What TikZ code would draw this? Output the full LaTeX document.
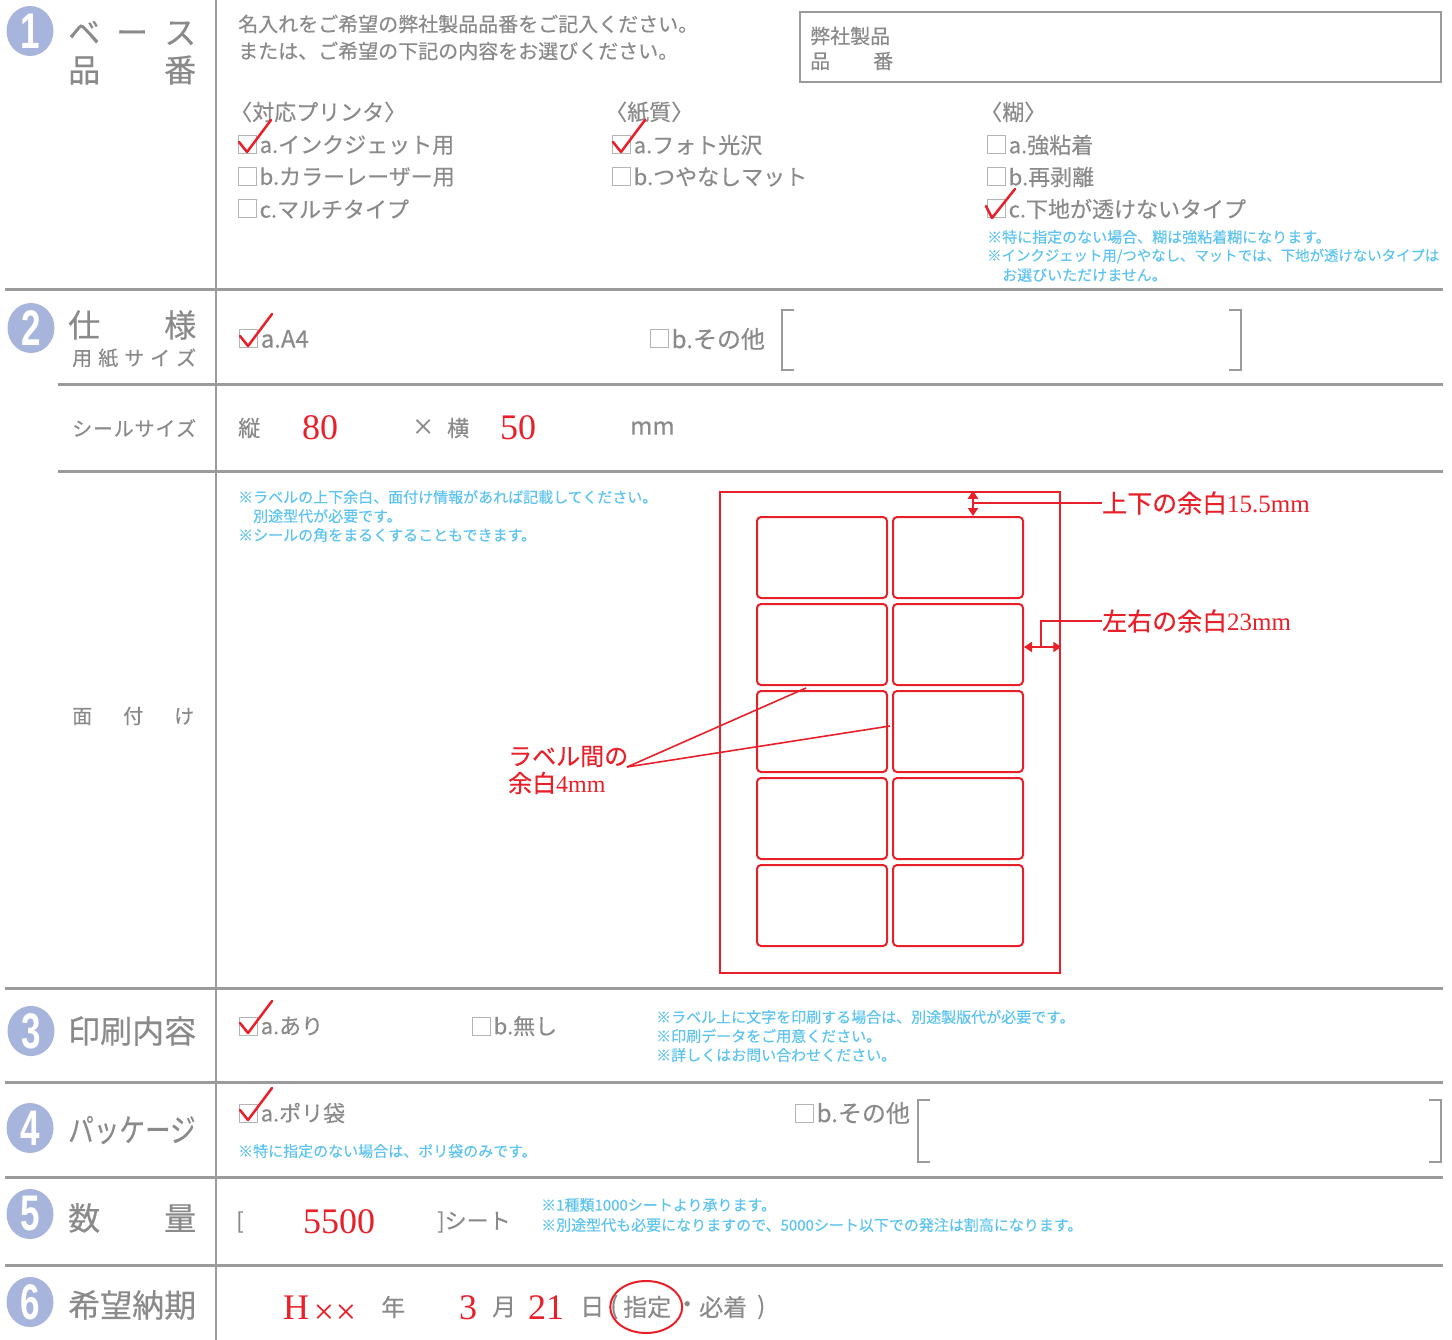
\documentclass[tikz,border=0pt]{standalone}
\usepackage{fontspec}
\setmainfont{Noto Sans CJK JP}[FakeBold=0.4]
\newfontfamily\serifnum{Liberation Serif}
\newfontfamily\circnum{Liberation Sans}[FakeStretch=0.7]
\usetikzlibrary{arrows.meta,shapes.geometric,positioning}

\definecolor{txtgray}{HTML}{8A8A8A}
\definecolor{linegray}{HTML}{9B9B9B}
\definecolor{boxgray}{HTML}{B4B4B4}
\definecolor{noteblue}{HTML}{5EC4EF}
\definecolor{markred}{HTML}{E8202A}
\definecolor{circblue}{HTML}{A7B5DC}

\newcommand{\spreadto}[2]{\hbox to #1{#2}}

\tikzset{
  num/.style={ellipse, fill=circblue, minimum width=47pt, minimum height=50pt, inner sep=0pt, text=white, font=\circnum\bfseries\fontsize{50}{50}\selectfont},
  head/.style={anchor=west, inner sep=0pt, text=txtgray, font=\fontsize{32}{32}\selectfont},
  sub/.style={anchor=west, inner sep=0pt, text=txtgray, font=\fontsize{20}{20}\selectfont},
  item/.style={anchor=west, inner sep=0pt, text=txtgray, font=\fontsize{22}{22}\selectfont},
  bigitem/.style={item, font=\fontsize{24}{24}\selectfont},
  note/.style={anchor=west, inner sep=0pt, text=noteblue, font=\fontsize{15}{15}\selectfont},
  rednum/.style={anchor=west, inner sep=0pt, text=markred, font=\serifnum\fontsize{36}{36}\selectfont},
  redtxt/.style={anchor=west, inner sep=0pt, text=markred, font=\fontsize{25}{27}\selectfont},
  cbox/.style={draw=boxgray, line width=1pt, minimum size=18pt, inner sep=0pt},
  checkmark/.style={markred, line width=2.5pt, line cap=round, line join=round},
  rowline/.style={linegray, line width=3pt},
  bracketline/.style={linegray, line width=2pt},
  redline/.style={markred, line width=2.5pt},
  redthin/.style={markred, line width=1.6pt},
  labelbox/.style={draw=markred, line width=2pt, rounded corners=4pt, minimum width=130pt, minimum height=81pt, inner sep=0pt},
  dimarrow/.style={markred, line width=2.5pt, {Triangle[length=8pt,width=10pt]}-{Triangle[length=8pt,width=10pt]}},
}

\begin{document}
\begin{tikzpicture}[x=1pt,y=-1pt]
    \useasboundingbox (0,0) rectangle (1452,1340);
    % table rules
    \draw[bracketline] (216,0) -- (216,1340);
    \draw[rowline] (5,290) -- (1443,290);
    \draw[rowline] (58,385) -- (1443,385);
    \draw[rowline] (58,471) -- (1443,471);
    \draw[rowline] (5,988) -- (1443,988);
    \draw[rowline] (5,1082) -- (1443,1082);
    \draw[rowline] (5,1177) -- (1443,1177);
    \draw[rowline] (5,1265) -- (1443,1265);

    % 1 base
    \node[num] (n1) at (30,31) {1};
    \node[head] (h1a) at (68,33) {\spreadto{128pt}{ベ\hfill ー\hfill ス}};
    \node[head] (h1b) at (68,70) {\spreadto{128pt}{品\hfill 番}};
    \node[sub] (intro1) at (238,24) {名入れをご希望の弊社製品品番をご記入ください。};
    \node[sub] (intro2) at (238,51) {または、ご希望の下記の内容をお選びください。};
    \draw[bracketline] (800,12) rectangle (1441,82);
    \node[sub] (pn1) at (810,36) {弊社製品};
    \node[sub] (pn2) at (810,61) {\spreadto{83pt}{品\hfill 番}};
    \node[item] (cat1) at (230,112) {〈対応プリンタ〉};
    \node[item] (cat2) at (605,112) {〈紙質〉};
    \node[item] (cat3) at (980,112) {〈糊〉};
    \node[cbox] (c1a) at (247,145) {};
    \node[cbox] (c1b) at (247,177) {};
    \node[cbox] (c1c) at (247,209) {};
    \node[item, right=3pt of c1a] (t1a) {a.インクジェット用};
    \node[item, right=3pt of c1b] (t1b) {b.カラーレーザー用};
    \node[item, right=3pt of c1c] (t1c) {c.マルチタイプ};
    \node[cbox] (c2a) at (621,145) {};
    \node[cbox] (c2b) at (621,177) {};
    \node[item, right=3pt of c2a] (t2a) {a.フォト光沢};
    \node[item, right=3pt of c2b] (t2b) {b.つやなしマット};
    \node[cbox] (c3a) at (996,145) {};
    \node[cbox] (c3b) at (996,177) {};
    \node[cbox] (c3c) at (996,209) {};
    \node[item, right=3pt of c3a] (t3a) {a.強粘着};
    \node[item, right=3pt of c3b] (t3b) {b.再剥離};
    \node[item, right=3pt of c3c] (t3c) {c.下地が透けないタイプ};
    \draw[checkmark] ([shift={(-8,-3)}]c1a.center) -- ++(8,10) -- ++(24,-32);
    \draw[checkmark] ([shift={(-8,-3)}]c2a.center) -- ++(8,10) -- ++(24,-32);
    \draw[checkmark] ([shift={(-10,-3)}]c3c.center) -- ++(6,12) -- ++(23,-29);
    \node[note] (g1) at (987,237) {※特に指定のない場合、糊は強粘着糊になります。};
    \node[note, font=\fontsize{14.4}{14.4}\selectfont] (g2) at (987,256) {※インクジェット用/つやなし、マットでは、下地が透けないタイプは};
    \node[note] (g3) at (1002,275) {お選びいただけません。};

    % 2 spec
    \node[num] (n2) at (31,328) {2};
    \node[head] (h2a) at (68,325) {\spreadto{128pt}{仕\hfill 様}};
    \node[sub] (h2b) at (72,358) {\spreadto{124pt}{用\hfill 紙\hfill サ\hfill イ\hfill ズ}};
    \node[sub] (h2c) at (72,428) {\spreadto{124pt}{シ\hfill ー\hfill ル\hfill サ\hfill イ\hfill ズ}};
    \node[sub] (h2d) at (72,716) {\spreadto{122pt}{面\hfill 付\hfill け}};
    \node[cbox] (s2a) at (248,339) {};
    \node[cbox] (s2b) at (659,339) {};
    \node[bigitem, right=3pt of s2a] (a4) {a.A4};
    \node[bigitem, right=3pt of s2b] (other2) {b.その他};
    \draw[checkmark] ([shift={(-8,-3)}]s2a.center) -- ++(8,10) -- ++(24,-32);
    \draw[bracketline] (794,310) -- (782,310) -- (782,370) -- (794,370);
    \draw[bracketline] (1229,310) -- (1241,310) -- (1241,370) -- (1229,370);
    \node[item] (tate) at (238,428) {縦};
    \node[rednum] (v80) at (302,428) {80};
    \node[item] (times) at (412,427) {×};
    \node[item] (yoko) at (447,428) {横};
    \node[rednum] (v50) at (500,428) {50};
    \node[bigitem] (unit) at (630,428) {mm};
    \node[note] (m1) at (238,497) {※ラベルの上下余白、面付け情報があれば記載してください。};
    \node[note] (m2) at (253,516) {別途型代が必要です。};
    \node[note] (m3) at (238,535) {※シールの角をまるくすることもできます。};

    % sheet layout
    \node[draw=markred, line width=2.5pt, minimum width=340pt, minimum height=481pt, inner sep=0pt] (sheet) at (890,732.5) {};
    \node[labelbox] (l11) at (822,557.5) {};
    \node[labelbox] (l12) at (958,557.5) {};
    \node[labelbox] (l21) at (822,644.5) {};
    \node[labelbox] (l22) at (958,644.5) {};
    \node[labelbox] (l31) at (822,731.5) {};
    \node[labelbox] (l32) at (958,731.5) {};
    \node[labelbox] (l41) at (822,818.5) {};
    \node[labelbox] (l42) at (958,818.5) {};
    \node[labelbox] (l51) at (822,905.5) {};
    \node[labelbox] (l52) at (958,905.5) {};
    \node[redtxt] (tbtext) at (1102,503) {上下の余白{\serifnum 15.5mm}};
    \node[redtxt] (lrtext) at (1102,621) {左右の余白{\serifnum 23mm}};
    \node[redtxt, align=left, font=\fontsize{24}{27}\selectfont] (gaptext) at (508,770) {ラベル間の\\余白{\serifnum 4mm}};
    \coordinate (tbmark) at (973,503);
    \coordinate (lrmark) at (1041,647);
    \coordinate (gapfrom) at (627,767);
    \coordinate (gaprow) at (806,688);
    \coordinate (gapcol) at (890,726);
    \draw[dimarrow] (sheet.north -| tbmark) -- (l12.north -| tbmark);
    \draw[redline] (tbmark) -- (tbtext.west);
    \draw[dimarrow] (l22.east |- lrmark) -- (sheet.east |- lrmark);
    \draw[redline] (lrmark) |- (lrtext.west);
    \draw[redthin] (gapfrom) -- (gaprow);
    \draw[redthin] (gapfrom) -- (gapcol);

    % 3 print
    \node[num] (n3) at (31,1031) {3};
    \node[head] (h3) at (68,1031) {\spreadto{128pt}{印\hfill 刷\hfill 内\hfill 容}};
    \node[cbox] (p3a) at (248,1026) {};
    \node[cbox] (p3b) at (481,1026) {};
    \node[item, right=3pt of p3a] (ari) {a.あり};
    \node[item, right=3pt of p3b] (nashi) {b.無し};
    \draw[checkmark] ([shift={(-8,-3)}]p3a.center) -- ++(8,10) -- ++(24,-32);
    \node[note] (q1) at (656,1017) {※ラベル上に文字を印刷する場合は、別途製版代が必要です。};
    \node[note] (q2) at (656,1036) {※印刷データをご用意ください。};
    \node[note] (q3) at (656,1055) {※詳しくはお問い合わせください。};

    % 4 package
    \node[num] (n4) at (30,1128) {4};
    \node[head] (h4) at (68,1130) {\scalebox{0.8}[1]{パッケージ}};
    \node[cbox] (k4a) at (248,1113) {};
    \node[cbox] (k4b) at (804,1113) {};
    \node[item, right=3pt of k4a] (poly) {a.ポリ袋};
    \node[bigitem, right=3pt of k4b] (other4) {b.その他};
    \draw[checkmark] ([shift={(-8,-3)}]k4a.center) -- ++(8,10) -- ++(24,-32);
    \node[note] (r1) at (238,1151) {※特に指定のない場合は、ポリ袋のみです。};
    \draw[bracketline] (930,1100) -- (918,1100) -- (918,1162) -- (930,1162);
    \draw[bracketline] (1429,1100) -- (1441,1100) -- (1441,1162) -- (1429,1162);

    % 5 quantity
    \node[num] (n5) at (30,1214) {5};
    \node[head] (h5) at (68,1218) {\spreadto{128pt}{数\hfill 量}};
    \node[item] (lb) at (236,1222) {[};
    \node[rednum] (qty) at (303,1222) {5500};
    \node[item] (rb) at (437,1222) {]シート};
    \node[note] (u1) at (541,1205) {※1種類1000シートより承ります。};
    \node[note] (u2) at (541,1225) {※別途型代も必要になりますので、5000シート以下での発注は割高になります。};

    % 6 delivery
    \node[num] (n6) at (30,1302) {6};
    \node[head] (h6) at (68,1305) {\spreadto{128pt}{希\hfill 望\hfill 納\hfill 期}};
    \node[rednum] (era) at (283,1308) {H{\normalfont\fontsize{22}{22}\selectfont\,××}};
    \node[bigitem] (nen) at (381,1307) {年};
    \node[rednum] (mon) at (459,1308) {3};
    \node[bigitem] (getsu) at (492,1307) {月};
    \node[rednum] (day) at (528,1308) {21};
    \node[bigitem] (nichi) at (580,1307) {日};
    \node[bigitem] (po) at (610,1307) {(};
    \node[bigitem] (shitei) at (623,1307) {指定};
    \node[bigitem] (dot) at (675,1307) {・};
    \node[bigitem] (hitchaku) at (699,1307) {必着};
    \node[bigitem] (pc) at (757,1307) {)};
    \draw[markred, line width=2pt] ([xshift=-1pt]shitei.center) ellipse [x radius=36pt, y radius=26pt];
\end{tikzpicture}
\end{document}
